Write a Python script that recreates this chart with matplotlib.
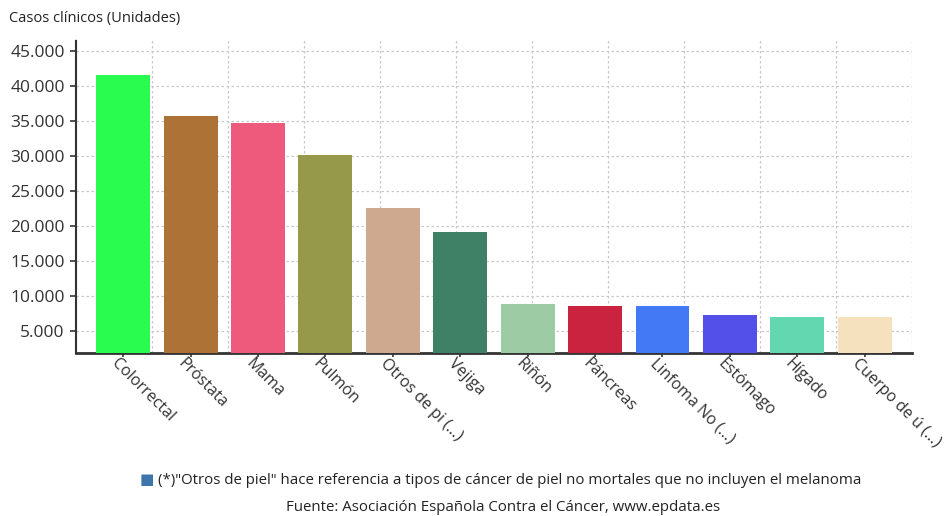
import matplotlib.pyplot as plt
import matplotlib.transforms as mtransforms
import numpy as np
from matplotlib.ticker import FuncFormatter

# casos clinicos estimados por tipo de cancer
tipos = ['Colorrectal', 'Próstata', 'Mama', 'Pulmón', 'Otros de pi (...)', 'Vejiga',
         'Riñón', 'Páncreas', 'Linfoma No (...)', 'Estómago', 'Hígado', 'Cuerpo de ú (...)']
casos = [41600, 35800, 34700, 30140, 22570, 19140,
         8860, 8610, 8570, 7330, 7000, 6960]
colores = ['#2afc4f', '#ad7236', '#ee5a7c', '#96994a', '#cfa98f', '#3f8166',
           '#9ccba4', '#ca2340', '#4379f5', '#5250e8', '#62d7b0', '#f5e1be']
yticks = [5000, 10000, 15000, 20000, 25000, 30000, 35000, 40000, 45000]

plt.rcParams['font.family'] = ['Open Sans', 'DejaVu Sans']

fig = plt.figure(figsize=(9.45, 5.16), dpi=100)
ax = fig.add_axes([0.0804, 0.316, 0.965 - 0.0804, 0.9225 - 0.316])

x = np.arange(len(tipos))
ax.bar(x, casos, width=0.8, color=colores, zorder=3)

xmin, xmax = -0.7, len(tipos) - 1 + 0.7
ax.set_xlim(xmin, xmax)
ax.set_ylim(1850, 46600)

# rejilla punteada, vertical independiente de las categorias
ax.set_yticks(yticks)
ax.yaxis.set_major_formatter(FuncFormatter(lambda v, p: f'{int(v):,}'.replace(',', '.')))
ax.grid(axis='y', color='#c8c8c8', linestyle=(0, (2, 2)), linewidth=0.9, zorder=0)
for gx in np.linspace(xmin, xmax, 12)[1:]:
    ax.axvline(gx, color='#c8c8c8', linestyle=(0, (2, 2)), linewidth=0.9, zorder=0)

ax.set_xticks(x)
ax.set_xticklabels(tipos, rotation=-45, ha='left', va='top', rotation_mode='anchor',
                   fontsize=11.5, color='#333333')
ax.tick_params(axis='x', length=3, width=1.2, color='#333333', pad=0)
ax.tick_params(axis='y', length=4, width=1.2, color='#333333', labelsize=12.5,
               labelcolor='#333333', pad=4)
# desplazar las etiquetas un poco a la izquierda
shift = mtransforms.ScaledTranslation(-3 / 72, 1 / 72, fig.dpi_scale_trans)
for lbl in ax.get_xticklabels():
    lbl.set_transform(lbl.get_transform() + shift)

for s in ['top', 'right']:
    ax.spines[s].set_visible(False)
ax.spines['left'].set_color('#333333')
ax.spines['left'].set_linewidth(1.5)
ax.spines['left'].set_linestyle((0, (1, 0.6)))
ax.spines['bottom'].set_color('#333333')
ax.spines['bottom'].set_linewidth(2)

fig.text(0.009, 0.965, 'Casos clínicos (Unidades)', fontsize=10.5, color='#222222',
         ha='left', va='center')

fig.text(0.148, 0.068, '■', fontsize=11, color='#3d74ac', ha='left', va='center')
fig.text(0.167, 0.068,
         '(*)"Otros de piel" hace referencia a tipos de cáncer de piel no mortales que no incluyen el melanoma',
         fontsize=10.8, color='#222222', ha='left', va='center')
fig.text(0.532, 0.016, 'Fuente: Asociación Española Contra el Cáncer, www.epdata.es',
         fontsize=10.8, color='#222222', ha='center', va='center')

fig.savefig('out.png', dpi=100)
